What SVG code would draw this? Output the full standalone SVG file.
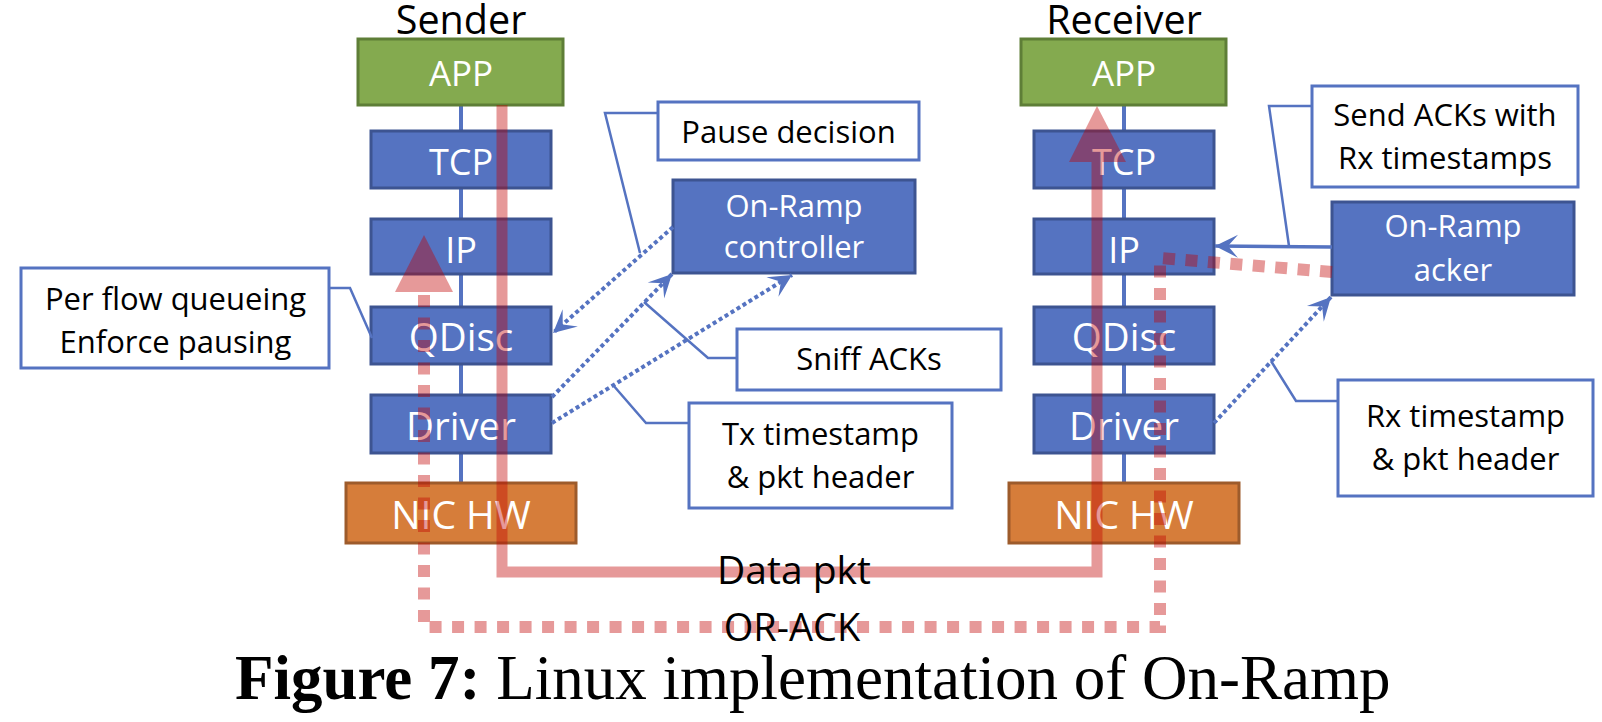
<svg xmlns="http://www.w3.org/2000/svg" width="1602" height="722" viewBox="0 0 1602 722">
<style>
  .t { font-family: "Open Sans", "Noto Sans", "DejaVu Sans", sans-serif; }
  .lbl { font-family: "Open Sans", "Noto Sans", "DejaVu Sans", sans-serif; fill: #ffffff; text-anchor: middle; }
  .blk { font-family: "Open Sans", "Noto Sans", "DejaVu Sans", sans-serif; fill: #000000; text-anchor: middle; font-size: 31px; }
  .blue { fill: #5573C1; stroke: #3D5491; stroke-width: 3; }
  .green { fill: #84AA4F; stroke: #5E7E37; stroke-width: 3; }
  .orange { fill: #D67D3A; stroke: #9D5B2B; stroke-width: 3; }
  .note { fill: #ffffff; stroke: #5573C1; stroke-width: 3; }
  .stackline { stroke: #5573C1; stroke-width: 4; fill: none; }
  .leader { stroke: #5573C1; stroke-width: 2.5; fill: none; }
  .dotted { stroke: #5573C1; stroke-width: 4; stroke-dasharray: 4 3; fill: none; marker-end: url(#stealth); }
  .solidarrow { stroke: #5573C1; stroke-width: 3.5; fill: none; marker-end: url(#stealth); }
  .redsolid { stroke: #C00000; stroke-opacity: 0.4; stroke-width: 11; fill: none; }
  .reddash { stroke: #C00000; stroke-opacity: 0.4; stroke-width: 12; stroke-dasharray: 12 10.5; fill: none; }
  .redtri { fill: #C00000; fill-opacity: 0.4; }
</style>
<defs>
  <marker id="stealth" viewBox="-24 -13 26 26" markerWidth="26" markerHeight="26" refX="0" refY="0" orient="auto" markerUnits="userSpaceOnUse">
    <path d="M0,0 L-23,-11.5 L-13,0 L-23,11.5 Z" fill="#5573C1"/>
  </marker>
</defs>
<rect width="1602" height="722" fill="#ffffff"/>

<!-- stack spines -->
<g id="spines">
  <line class="stackline" x1="461" y1="105" x2="461" y2="483"/>
  <line class="stackline" x1="1124" y1="105" x2="1124" y2="483"/>
</g>

<!-- Sender -->
<text class="t" x="461" y="34" font-size="39.5" text-anchor="middle" fill="#000">Sender</text>
<g id="s-app"><rect class="green" x="358" y="39" width="205" height="66"/><text class="lbl" x="461" y="86" font-size="35">APP</text></g>
<g id="s-tcp"><rect class="blue" x="371" y="131" width="180" height="57"/><text class="lbl" x="461" y="175" font-size="36">TCP</text></g>
<g id="s-ip"><rect class="blue" x="371" y="219" width="180" height="55"/><text class="lbl" x="461" y="263" font-size="36">IP</text></g>
<g id="s-qdisc"><rect class="blue" x="371" y="307" width="180" height="57"/><text class="lbl" x="461" y="351" font-size="38.5">QDisc</text></g>
<g id="s-driver"><rect class="blue" x="371" y="395" width="180" height="58"/><text class="lbl" x="461" y="440" font-size="38.5">Driver</text></g>
<g id="s-nic"><rect class="orange" x="346" y="483" width="230" height="60"/><text class="lbl" x="461" y="529" font-size="39">NIC HW</text></g>

<!-- Receiver -->
<text class="t" x="1124" y="34" font-size="39.5" text-anchor="middle" fill="#000">Receiver</text>
<g id="r-app"><rect class="green" x="1021" y="39" width="205" height="66"/><text class="lbl" x="1124" y="86" font-size="35">APP</text></g>
<g id="r-tcp"><rect class="blue" x="1034" y="131" width="180" height="57"/><text class="lbl" x="1124" y="175" font-size="36">TCP</text></g>
<g id="r-ip"><rect class="blue" x="1034" y="219" width="180" height="55"/><text class="lbl" x="1124" y="263" font-size="36">IP</text></g>
<g id="r-qdisc"><rect class="blue" x="1034" y="307" width="180" height="57"/><text class="lbl" x="1124" y="351" font-size="38.5">QDisc</text></g>
<g id="r-driver"><rect class="blue" x="1034" y="395" width="180" height="58"/><text class="lbl" x="1124" y="440" font-size="38.5">Driver</text></g>
<g id="r-nic"><rect class="orange" x="1009" y="483" width="230" height="60"/><text class="lbl" x="1124" y="529" font-size="39">NIC HW</text></g>

<!-- On-Ramp components -->
<g id="controller"><rect class="blue" x="673" y="180" width="242" height="93"/><text class="lbl" x="794" y="217" font-size="31">On-Ramp</text><text class="lbl" x="794" y="258" font-size="31">controller</text></g>
<g id="acker"><rect class="blue" x="1332" y="202" width="242" height="93"/><text class="lbl" x="1453" y="237" font-size="31">On-Ramp</text><text class="lbl" x="1453" y="281" font-size="31">acker</text></g>

<!-- annotation boxes -->
<g id="note-perflow"><rect class="note" x="21" y="268" width="308" height="100"/><text class="blk" x="175.5" y="310">Per flow queueing</text><text class="blk" x="175.5" y="353">Enforce pausing</text></g>
<g id="note-pause"><rect class="note" x="658" y="102" width="261" height="58"/><text class="blk" x="788.5" y="143">Pause decision</text></g>
<g id="note-sniff"><rect class="note" x="737" y="329" width="264" height="61"/><text class="blk" x="869" y="370">Sniff ACKs</text></g>
<g id="note-tx"><rect class="note" x="689" y="403" width="263" height="105"/><text class="blk" x="820.5" y="445">Tx timestamp</text><text class="blk" x="820.5" y="488">&amp; pkt header</text></g>
<g id="note-send"><rect class="note" x="1312" y="86" width="266" height="101"/><text class="blk" x="1445" y="126">Send ACKs with</text><text class="blk" x="1445" y="169">Rx timestamps</text></g>
<g id="note-rx"><rect class="note" x="1338" y="380" width="255" height="116"/><text class="blk" x="1465.5" y="427">Rx timestamp</text><text class="blk" x="1465.5" y="470">&amp; pkt header</text></g>

<!-- connectors -->
<g id="connectors">
  <path class="leader" d="M329,288 H350 L372,338"/>
  <path class="leader" d="M658,113 H605 L640,253"/>
  <path class="leader" d="M737,358 H708 L644,302"/>
  <path class="leader" d="M689,423 H646 L613,385"/>
  <path class="leader" d="M1312,106 H1269 L1289,246"/>
  <path class="leader" d="M1338,401 H1296 L1271,361"/>

  <line class="dotted" x1="673" y1="227" x2="553" y2="333"/>
  <line class="dotted" x1="552" y1="397" x2="672" y2="274"/>
  <line class="dotted" x1="552" y1="423" x2="792" y2="275"/>
  <line class="dotted" x1="1214" y1="423" x2="1331" y2="297"/>
  <line class="solidarrow" x1="1332" y1="247" x2="1215" y2="246"/>

  <path class="redsolid" d="M502,105 V572 H1097 V162"/>
  <polygon class="redtri" points="1097,106 1069,162 1126,162"/>
  <path class="reddash" d="M1332,272 L1160,258 V627 H424 V292"/>
  <polygon class="redtri" points="424,235 395,292 453,292"/>
</g>

<g id="flow-labels">
  <text class="t" x="794" y="584" font-size="39" text-anchor="middle" fill="#000">Data pkt</text>
  <text class="t" x="792" y="641" font-size="38" text-anchor="middle" fill="#000">OR-ACK</text>
</g>

<text x="235" y="699" font-family="'Liberation Serif', 'Times New Roman', serif" font-size="63" fill="#000"><tspan font-weight="bold">Figure 7:</tspan> Linux implementation of On-Ramp</text>
</svg>
